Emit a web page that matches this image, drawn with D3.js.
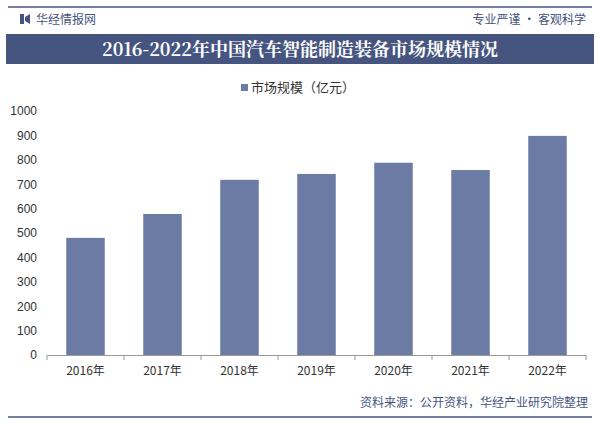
<!DOCTYPE html><html><head><meta charset="utf-8">
<script src="https://cdn.jsdelivr.net/npm/d3@7"></script>
<style>body{margin:0;background:#fff}svg{display:block}</style></head><body>
<script>
const categories=["2016年","2017年","2018年","2019年","2020年","2021年","2022年"];
const values=[480,578,718,742,788,758,898];
const yTicks=[0,100,200,300,400,500,600,700,800,900,1000];
const W=600,H=424;
const svg=d3.select("body").append("svg").attr("width",W).attr("height",H);
svg.append("rect").attr("x",0).attr("y",0).attr("width",W).attr("height",H).attr("fill","#fff");
svg.append("line").attr("x1",8).attr("x2",592).attr("y1",7).attr("y2",7).attr("stroke","#46557f").attr("stroke-width",1.5);
svg.append("rect").attr("x",6).attr("y",34).attr("width",588).attr("height",30).attr("fill","#46557f");
const f="'Noto Sans CJK SC',sans-serif";
svg.append("path").attr("d","M20,14 h4 v10 h-4z M25,17 l5,-3 v10 l-5,-3z").attr("fill","#46557f");
svg.append("text").attr("x",36).attr("y",24).attr("font-family",f).attr("font-size",12).attr("fill","#46557f").text("华经情报网");
svg.append("text").attr("x",586).attr("y",24).attr("text-anchor","end").attr("font-family",f).attr("font-size",12).attr("fill","#46557f").text("专业严谨 • 客观科学");
svg.append("text").attr("x",300).attr("y",56).attr("text-anchor","middle").attr("font-family","'Noto Serif CJK SC','Noto Sans CJK SC',serif").attr("font-weight","bold").attr("font-size",18).attr("fill","#fff").text("2016-2022年中国汽车智能制造装备市场规模情况");
svg.append("rect").attr("x",241).attr("y",84).attr("width",7).attr("height",7).attr("fill","#6b7ba3");
svg.append("text").attr("x",251).attr("y",92).attr("font-family",f).attr("font-size",13).attr("fill","#333").text("市场规模（亿元）");
const x=d3.scaleBand().domain(categories).range([47,586]).paddingInner(0.5).paddingOuter(0.25);
const y=d3.scaleLinear().domain([0,1000]).range([355,111]);
svg.selectAll(".bar").data(values).enter().append("rect").attr("x",(d,i)=>x(categories[i])).attr("width",x.bandwidth()).attr("y",d=>y(d)).attr("height",d=>y(0)-y(d)).attr("fill","#6b7ba3");
const ya=svg.append("g").attr("transform","translate(45,0)").call(d3.axisLeft(y).tickValues(yTicks).tickFormat(d3.format("d")).tickSize(0).tickPadding(8));
ya.select(".domain").remove();
ya.selectAll("text").attr("font-family","'Liberation Sans',Arial").attr("font-size",12).attr("fill","#333");
const xa=svg.append("g").attr("transform","translate(0,355)").call(d3.axisBottom(x).tickSizeOuter(0).tickSizeInner(5).tickPadding(6));
xa.select(".domain").attr("stroke","#999");
xa.selectAll("line").attr("stroke","#999").attr("transform",`translate(${-x.step()/2},0)`);
xa.append("line").attr("x1",586).attr("x2",586).attr("y1",0).attr("y2",5).attr("stroke","#999");
xa.selectAll("text").attr("font-family",f).attr("font-size",12).attr("fill","#333");
svg.append("text").attr("x",588).attr("y",407).attr("text-anchor","end").attr("font-family",f).attr("font-size",12).attr("fill","#46557f").text("资料来源：公开资料，华经产业研究院整理");
svg.append("line").attr("x1",8).attr("x2",592).attr("y1",417).attr("y2",417).attr("stroke","#46557f").attr("stroke-width",1.5);
</script></body></html>
